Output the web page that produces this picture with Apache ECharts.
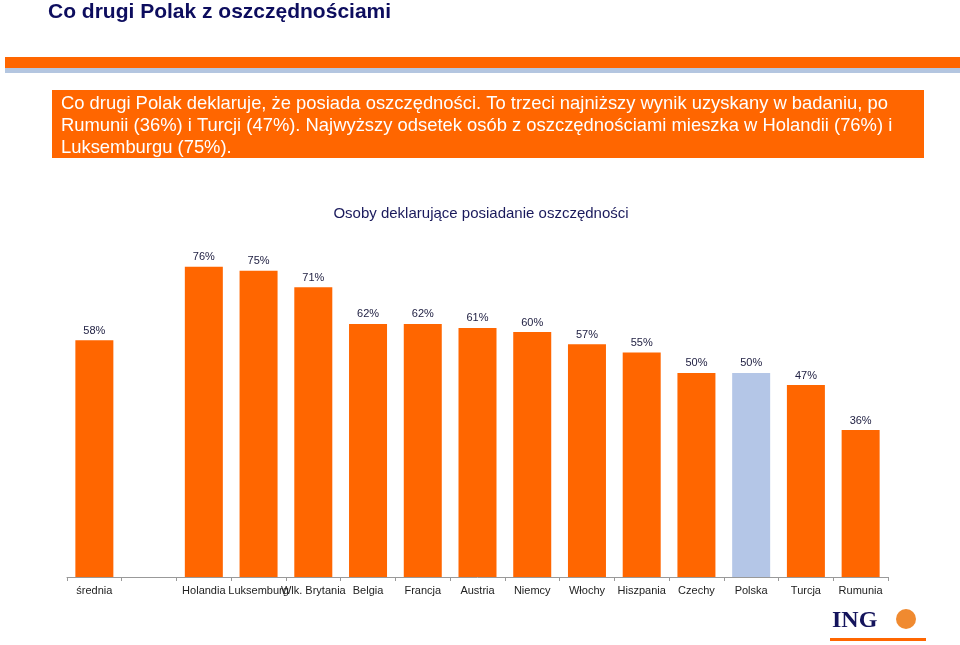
<!DOCTYPE html>
<html><head><meta charset="utf-8">
<script src="https://cdn.jsdelivr.net/npm/echarts@6/dist/echarts.min.js"></script>
<style>html,body{margin:0;padding:0;background:#fff}#c{width:960px;height:645px}</style>
</head><body><div id="c"></div>
<script>
const categories = ['średnia', '', 'Holandia', 'Luksemburg', 'Wlk. Brytania', 'Belgia', 'Francja', 'Austria', 'Niemcy', 'Włochy', 'Hiszpania', 'Czechy', 'Polska', 'Turcja', 'Rumunia'];
const values = [58, null, 76, 75, 71, 62, 62, 61, 60, 57, 55, 50, 50, 47, 36];
const highlight = 'Polska';
const pageTitle = 'Co drugi Polak z oszczędnościami';
const boxLines = ['Co drugi Polak deklaruje, że posiada oszczędności. To trzeci najniższy wynik uzyskany w badaniu, po',
  'Rumunii (36%) i Turcji (47%). Najwyższy odsetek osób z oszczędnościami mieszka w Holandii (76%) i',
  'Luksemburgu (75%).'];
const chartTitle = 'Osoby deklarujące posiadanie oszczędności';

const orange = '#ff6600';
const chart = echarts.init(document.getElementById('c'));
chart.setOption({
  animation: false,
  textStyle: {fontFamily: 'Liberation Sans, Arial, sans-serif'},
  title: {
    text: chartTitle, left: 476, top: 201, textAlign: 'center',
    textStyle: {fontSize: 15, fontWeight: 'normal', color: '#1a1a5c'}
  },
  grid: {left: 67, right: 72, top: 250.4, bottom: 68},
  xAxis: {
    type: 'category', data: categories,
    axisLine: {lineStyle: {color: '#999', width: 1}},
    axisTick: {show: true, length: 4, lineStyle: {color: '#999'}},
    axisLabel: {interval: 0, color: '#222', fontSize: 11, margin: 8}
  },
  yAxis: {type: 'value', min: 0, max: 80, show: false, splitLine: {show: false}},
  series: [{
    type: 'bar', barWidth: 38,
    data: values.map((v, i) => ({value: v, itemStyle: {color: categories[i] === highlight ? '#b4c6e7' : orange}})),
    label: {show: true, position: 'top', distance: 4, color: '#222244', fontSize: 11, formatter: p => p.value + '%'}
  }],
  graphic: [
    {type: 'text', left: 48, top: 2, style: {text: pageTitle, fill: '#0d0d5e', font: 'bold 21px Liberation Sans, Arial, sans-serif'}},
    {type: 'rect', shape: {x: 5, y: 57, width: 955, height: 11}, style: {fill: orange}},
    {type: 'rect', shape: {x: 5, y: 68, width: 955, height: 5}, style: {fill: '#b4c6e0'}},
    {type: 'rect', shape: {x: 52, y: 90, width: 872, height: 68}, style: {fill: orange}},
    {type: 'text', x: 61, y: 93, style: {text: boxLines.join('\n'), fill: '#fff', font: '18.4px Liberation Sans, Arial, sans-serif', lineHeight: 22}},
    {type: 'text', x: 832, y: 609, style: {text: 'ING', fill: '#14145c', font: 'bold 24px Liberation Serif, Times New Roman, serif'}},
    {type: 'circle', shape: {cx: 906, cy: 619, r: 10}, style: {fill: '#f08a30'}},
    {type: 'rect', shape: {x: 830, y: 638, width: 96, height: 3}, style: {fill: orange}}
  ]
});
</script></body></html>
